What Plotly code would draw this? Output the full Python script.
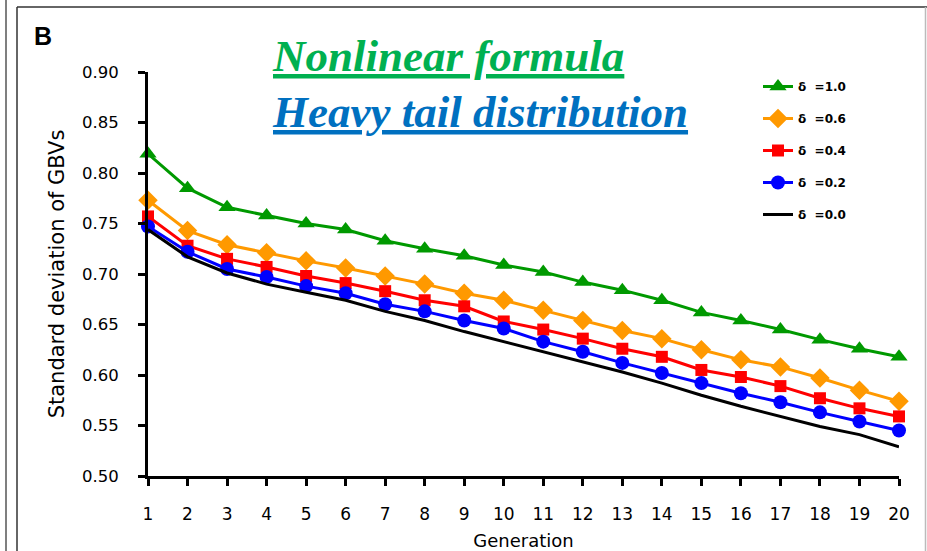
import plotly.graph_objects as go

generations = list(range(1, 21))
delta_10 = [0.819, 0.785, 0.766, 0.758, 0.750, 0.744, 0.733, 0.725, 0.718, 0.709,
            0.702, 0.692, 0.684, 0.674, 0.662, 0.654, 0.645, 0.635, 0.626, 0.618]
delta_06 = [0.773, 0.743, 0.729, 0.721, 0.713, 0.706, 0.698, 0.690, 0.681, 0.674,
            0.664, 0.654, 0.644, 0.636, 0.625, 0.615, 0.608, 0.597, 0.585, 0.574]
delta_04 = [0.757, 0.728, 0.715, 0.707, 0.698, 0.691, 0.683, 0.674, 0.668, 0.653,
            0.645, 0.636, 0.626, 0.618, 0.605, 0.598, 0.589, 0.577, 0.567, 0.559]
delta_02 = [0.747, 0.722, 0.705, 0.697, 0.688, 0.681, 0.670, 0.663, 0.654, 0.646,
            0.633, 0.623, 0.612, 0.602, 0.592, 0.582, 0.573, 0.563, 0.554, 0.545]
delta_00 = [0.744, 0.717, 0.701, 0.690, 0.682, 0.674, 0.663, 0.654, 0.643, 0.633,
            0.623, 0.613, 0.603, 0.592, 0.580, 0.569, 0.559, 0.549, 0.541, 0.529]

series_names = ["δ\u00a0 =1.0", "δ\u00a0 =0.6", "δ\u00a0 =0.4", "δ\u00a0 =0.2", "δ\u00a0 =0.0"]
y_ticks = [0.50, 0.55, 0.60, 0.65, 0.70, 0.75, 0.80, 0.85, 0.90]

styles = [
    dict(color="#009900", symbol="triangle-up", size=15),
    dict(color="#FF9900", symbol="diamond", size=15),
    dict(color="#FF0000", symbol="square", size=12),
    dict(color="#0000FF", symbol="circle", size=14),
    dict(color="#000000", symbol=None, size=0),
]
data = [delta_10, delta_06, delta_04, delta_02, delta_00]

fig = go.Figure()
for i, (name, vals, st) in enumerate(zip(series_names, data, styles)):
    if st["symbol"]:
        fig.add_trace(go.Scatter(
            x=generations, y=vals, name=name, mode="lines+markers",
            line=dict(color=st["color"], width=3),
            marker=dict(symbol=st["symbol"], size=st["size"], color=st["color"]),
            cliponaxis=False, legendgroup=f"g{i}"))
    else:
        fig.add_trace(go.Scatter(
            x=generations, y=vals, name=name, mode="lines",
            line=dict(color=st["color"], width=3),
            cliponaxis=False, legendgroup=f"g{i}"))

W, H = 927, 551
L, R, T, B = 148, 28, 72, 75
pw = W - L - R
ph = H - T - B

def px(x):
    return (x - L) / pw

def py(y):
    return 1 - (y - T) / ph

fig.update_layout(
    width=W, height=H,
    margin=dict(l=L, r=R, t=T, b=B, pad=0, autoexpand=False),
    paper_bgcolor="white", plot_bgcolor="white",
    font=dict(family="DejaVu Sans", color="black"),
    xaxis=dict(range=[1, 20], tickvals=generations, showgrid=False, zeroline=False,
               showline=True, linecolor="black", linewidth=3, automargin=False,
               ticks="outside", ticklen=7, tickwidth=3, tickcolor="black",
               tickfont=dict(size=17, family="DejaVu Sans"), ticklabelstandoff=14,
               title=dict(text="Generation", font=dict(size=18, family="DejaVu Sans"), standoff=16)),
    yaxis=dict(range=[0.5, 0.9], tickvals=y_ticks, tickformat=".2f", showgrid=False,
               zeroline=False, showline=True, linecolor="black", linewidth=3, automargin=False,
               ticks="outside", ticklen=7, tickwidth=3, tickcolor="black",
               tickfont=dict(size=16.5, family="DejaVu Sans"), ticklabelstandoff=16,
               title=dict(text="Standard deviation of GBVs", font=dict(size=21, family="DejaVu Sans"), standoff=12)),
    legend=dict(x=px(758), y=py(72), xanchor="left", yanchor="top",
                bgcolor="rgba(0,0,0,0)", tracegroupgap=13,
                font=dict(family="DejaVu Sans", size=12, weight="bold")),
    showlegend=True,
)

annotations = [
    dict(text="<b>B</b>", x=px(32), y=py(36), xanchor="left", yanchor="middle",
         font=dict(family="Liberation Sans", size=25, color="black")),
    dict(text="<u>Nonlinear formula</u>", x=px(270), y=py(56), xanchor="left", yanchor="middle",
         font=dict(family="Liberation Serif", size=45, color="#00B050", weight="bold", style="italic")),
    dict(text="<u>Heavy tail distribution</u>", x=px(270), y=py(112), xanchor="left", yanchor="middle",
         font=dict(family="Liberation Serif", size=45, color="#0070C0", weight="bold", style="italic")),
]
for a in annotations:
    a.update(xref="paper", yref="paper", showarrow=False)
    fig.add_annotation(**a)

frame = [
    (6, 0, 6, H, "#555555"),
    (17, 7, 17, H, "#333333"),
    (17, 7, W, 7, "#333333"),
    (925.5, 7, 925.5, H, "#bbbbbb"),
]
for x0, y0, x1, y1, c in frame:
    fig.add_shape(type="line", xref="paper", yref="paper", x0=px(x0), y0=py(y0),
                  x1=px(x1), y1=py(y1), line=dict(color=c, width=1.5))

fig.write_html("out.html")
